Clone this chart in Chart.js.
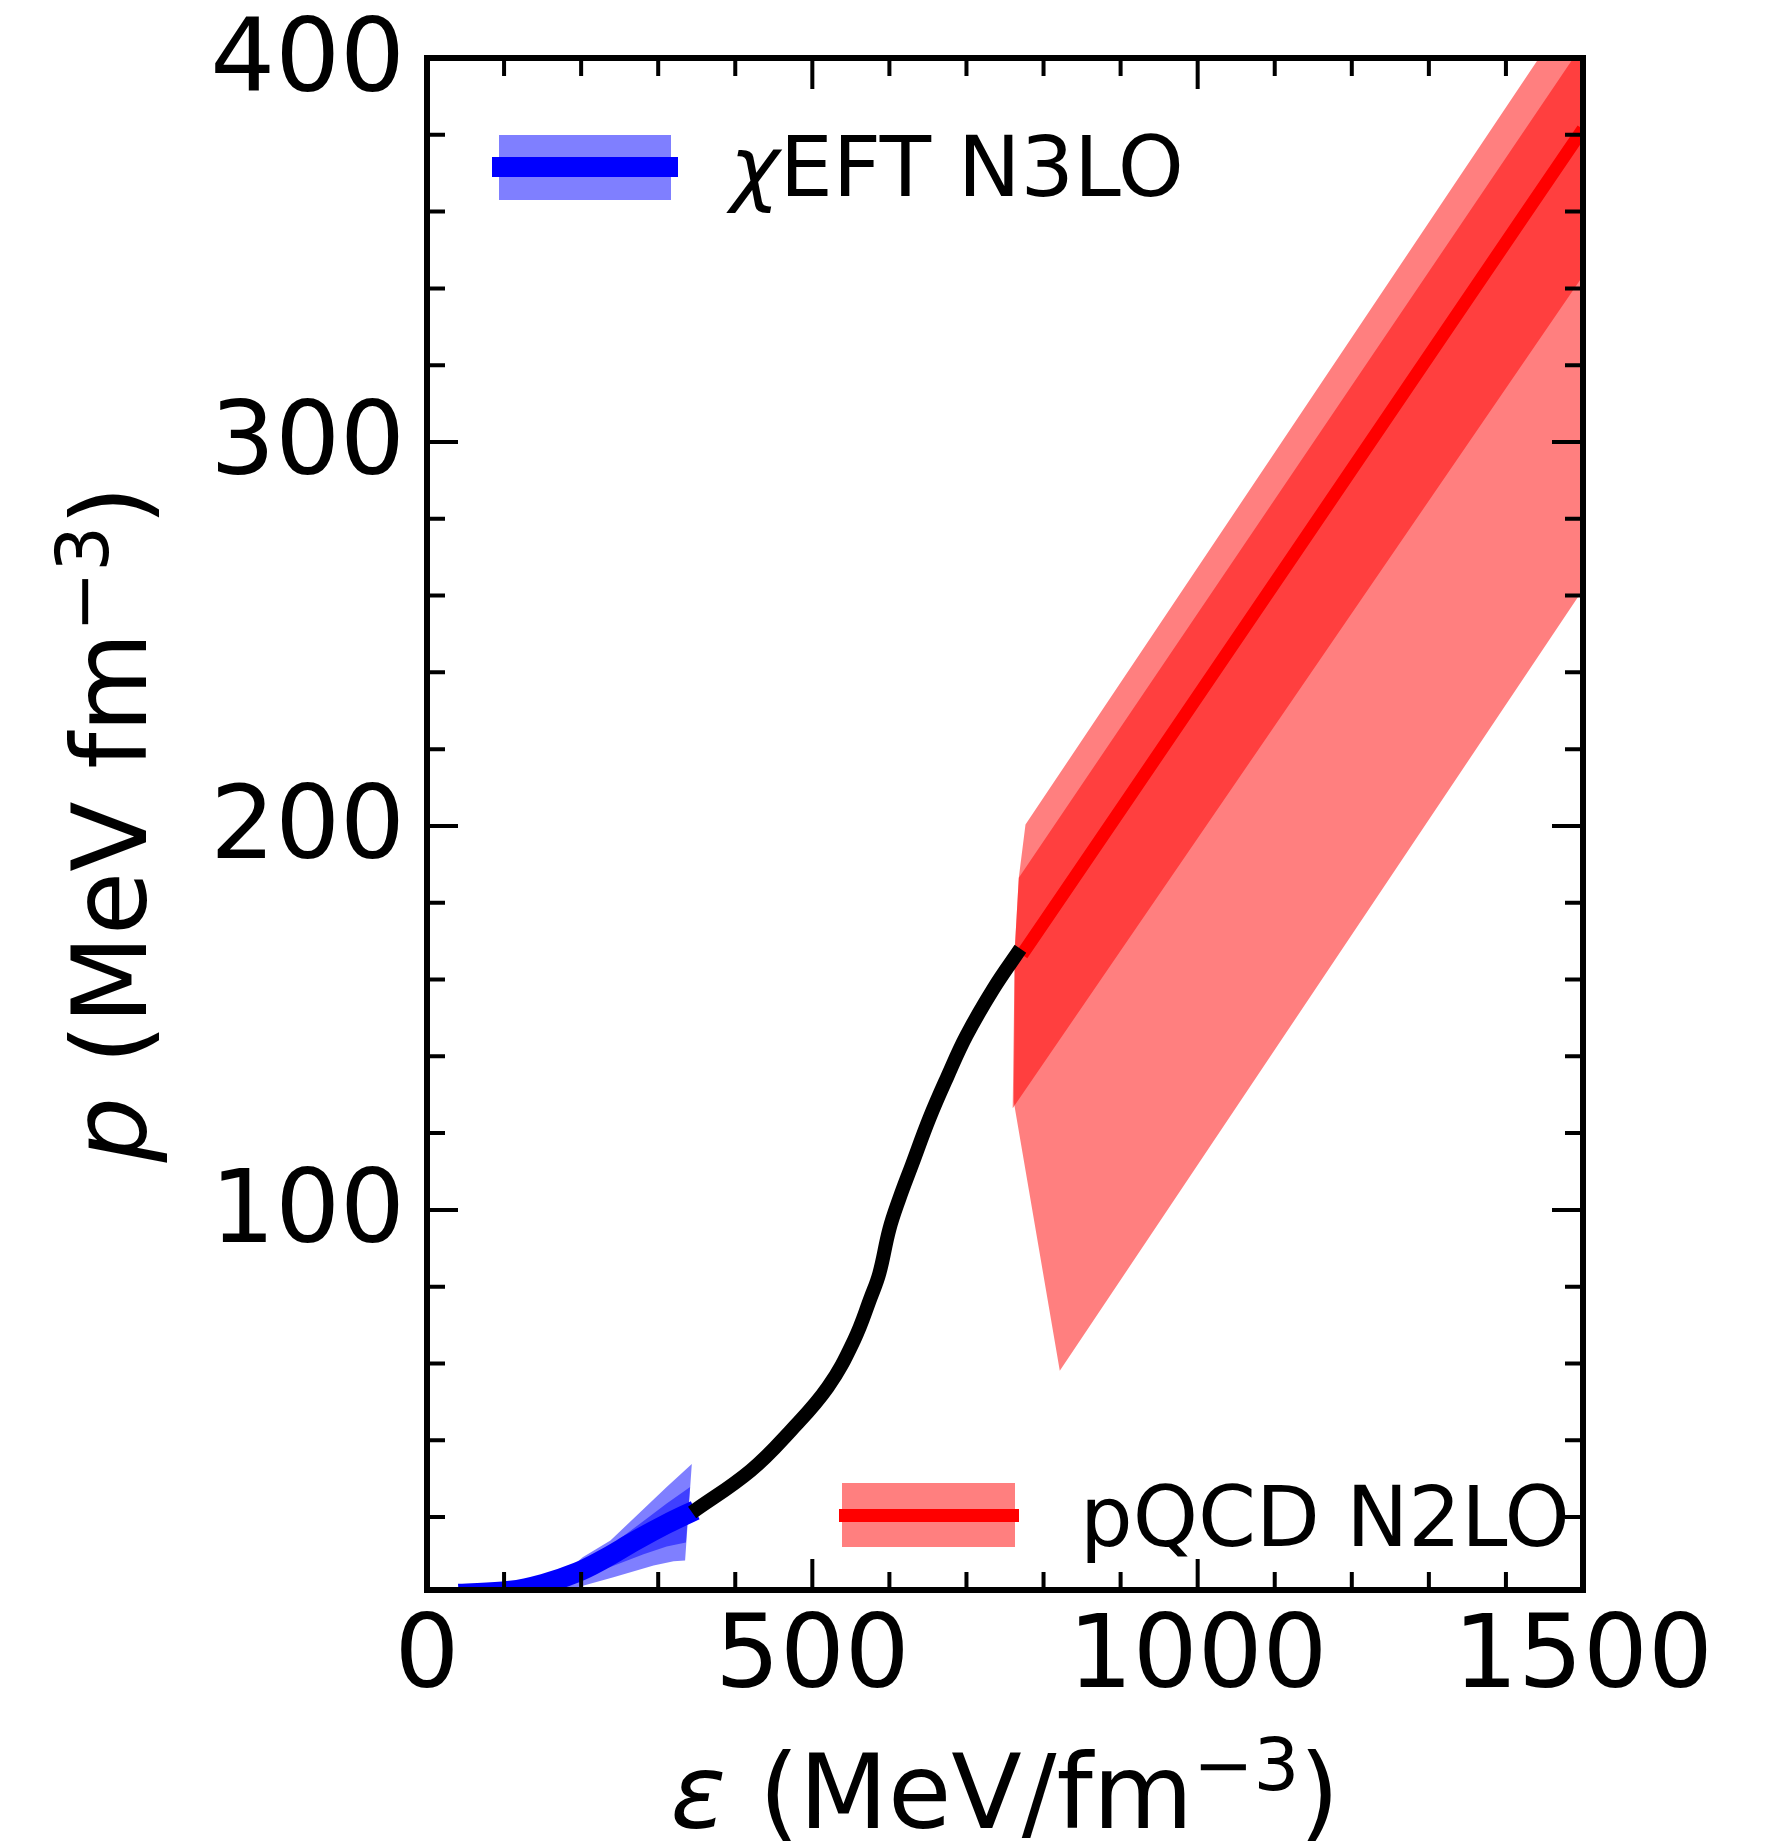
<!DOCTYPE html>
<html lang="en">
<head>
<meta charset="UTF-8">
<title>Pressure vs energy density</title>
<script src="https://cdn.jsdelivr.net/npm/chart.js"></script>
<style>
  html, body { margin: 0; padding: 0; background: #fff; }
  #wrap { width: 1773px; height: 1845px; }
</style>
</head>
<body>
<div id="wrap"><canvas id="eos" width="1773" height="1845"></canvas></div>
<script>
// energy density (MeV/fm^3), pressure (MeV fm^-3)
const chiEftCentral = [[41,0],[108,0.8],[151,2.6],[195,5.6],[229,9.0],[272,14.0],[311,18.2],[348,21.8]];
const chiEftOuter = [[150,0.5],[202,9.5],[238,13.9],[281,22.1],[311,27.8],[343.6,33.8],[334.9,8.7],[320,8.5],[294,7.4],[242,4.3],[186,1.2],[150,-1],[150,0.5]];
const chiEftInner = [[186,3.5],[202,9],[238,12.5],[281,19],[311,23.5],[341.4,27.8],[336,13.4],[311,12.3],[281,10.3],[238,7],[202,4.5],[186,3.5]];

const interpEos = [[344,21.2],[420,32.1],[472,42.5],[520,53.8],[554,66],[576,77.3],[587,83.5],[600,95],[613,103],[629,111.6],[652,123.9],[675,134.6],[700,145.4],[735,157.6],[770,168]];

const pqcdCentral = [[772,166.5],[908.5,206.7],[1349.3,337],[1500,381.5]];
const pqcdOuter = [[776.6,200.4],[1500,417.1],[1500,261.6],[821.1,58.1],[761.5,128],[762.7,168],[767.9,186.5],[776.6,200.4]];
const pqcdInner = [[767.9,186.5],[1500,403.7],[1500,343.3],[760,126.5],[762.7,168],[767.9,186.5]];

const xTicks = [0, 500, 1000, 1500];
const yTicks = [100, 200, 300, 400];

const pts = arr => arr.map(([x, y]) => ({x, y}));
const FONT = '"DejaVu Sans", sans-serif';

function line(data, color, width, order) {
  return {
    data: pts(data), showLine: true, borderColor: color, borderWidth: width,
    pointRadius: 0, fill: false, tension: 0.4,
    borderCapStyle: 'butt', clip: 0, order: order
  };
}
function band(data, color, order) {
  return {
    data: pts(data), showLine: true, borderColor: 'transparent', borderWidth: 0,
    backgroundColor: color, pointRadius: 0, fill: 'shape', tension: 0, clip: 0, order: order
  };
}

// text with italic symbol and superscript pieces
function richText(ctx, parts, size) {
  let w = 0;
  parts.forEach(p => {
    const s = p.sup ? size * 0.7 : size;
    ctx.font = (p.it ? 'italic ' : '') + s + 'px ' + FONT;
    p.w = ctx.measureText(p.t).width;
    w += p.w;
  });
  let x = -w / 2;
  parts.forEach(p => {
    const s = p.sup ? size * 0.7 : size;
    ctx.font = (p.it ? 'italic ' : '') + s + 'px ' + FONT;
    ctx.fillText(p.t, x, p.sup ? -size * 0.37 : 0);
    x += p.w;
  });
}

const decor = {
  id: 'decor',
  afterDraw(chart) {
    const ctx = chart.ctx;
    const a = chart.chartArea;
    const xs = chart.scales.x, ys = chart.scales.y;
    ctx.save();
    ctx.strokeStyle = '#000';
    ctx.fillStyle = '#000';

    // inward ticks on all four sides
    ctx.lineWidth = 4;
    ctx.beginPath();
    for (let v = 0; v <= 1500; v += 100) {
      const px = xs.getPixelForValue(v);
      const len = v % 500 === 0 ? 31 : 18;
      ctx.moveTo(px, a.bottom); ctx.lineTo(px, a.bottom - len);
      ctx.moveTo(px, a.top); ctx.lineTo(px, a.top + len);
    }
    for (let v = 20; v <= 400; v += 20) {
      const py = ys.getPixelForValue(v);
      const len = v % 100 === 0 ? 31 : 18;
      ctx.moveTo(a.left, py); ctx.lineTo(a.left + len, py);
      ctx.moveTo(a.right, py); ctx.lineTo(a.right - len, py);
    }
    ctx.stroke();

    // frame
    ctx.lineWidth = 6;
    ctx.strokeRect(a.left, a.top, a.right - a.left, a.bottom - a.top);

    // legend entries
    ctx.fillStyle = 'rgba(0,0,255,0.5)';
    ctx.fillRect(499, 135, 172, 65);
    ctx.fillStyle = '#0000ff';
    ctx.fillRect(492, 157, 186, 20);
    ctx.fillStyle = 'rgba(255,0,0,0.5)';
    ctx.fillRect(842, 1483, 173, 64);
    ctx.fillStyle = '#ff0000';
    ctx.fillRect(839, 1509, 180, 13);

    ctx.fillStyle = '#000';
    ctx.textAlign = 'left';
    ctx.textBaseline = 'alphabetic';
    ctx.font = 'italic 84px ' + FONT;
    ctx.fillText('χ', 730, 196);
    const cw = ctx.measureText('χ').width;
    ctx.font = '84px ' + FONT;
    ctx.fillText('EFT N3LO', 730 + cw, 196);
    ctx.font = '83px ' + FONT;
    ctx.fillText('pQCD N2LO', 1080, 1546);

    // axis titles
    ctx.save();
    ctx.translate((a.left + a.right) / 2, 1828);
    richText(ctx, [{t: 'ε', it: true}, {t: ' (MeV/fm'}, {t: '−3', sup: true}, {t: ')'}], 103);
    ctx.restore();

    ctx.save();
    ctx.translate(146, (a.top + a.bottom) / 2);
    ctx.rotate(-Math.PI / 2);
    richText(ctx, [{t: 'p', it: true}, {t: ' (MeV fm'}, {t: '−3', sup: true}, {t: ')'}], 103);
    ctx.restore();

    ctx.restore();
  }
};

new Chart(document.getElementById('eos'), {
  type: 'scatter',
  data: {
    datasets: [
      line(interpEos, '#000000', 14, 0),
      line(pqcdCentral, '#ff0000', 13, 1),
      line(chiEftCentral, '#0000ff', 20, 1),
      band(pqcdInner, 'rgba(255,0,0,0.5)', 2),
      band(pqcdOuter, 'rgba(255,0,0,0.5)', 3),
      band(chiEftInner, 'rgba(0,0,255,0.5)', 2),
      band(chiEftOuter, 'rgba(0,0,255,0.5)', 3)
    ]
  },
  options: {
    responsive: false,
    animation: false,
    layout: { padding: { left: 0, top: 58, right: 190, bottom: 0 } },
    plugins: { legend: { display: false }, tooltip: { enabled: false } },
    scales: {
      x: {
        type: 'linear', min: 0, max: 1500,
        afterBuildTicks: s => { s.ticks = xTicks.map(v => ({value: v})); },
        afterFit: s => { s.height = 255; s.paddingLeft = 0; s.paddingRight = 0; },
        grid: { display: false, drawTicks: false },
        border: { display: false },
        ticks: { color: '#000', font: { family: FONT, size: 102 }, padding: 9, maxRotation: 0, autoSkip: false,
                 callback: v => String(v) }
      },
      y: {
        type: 'linear', min: 1, max: 400,
        afterBuildTicks: s => { s.ticks = yTicks.map(v => ({value: v})); },
        afterFit: s => { s.width = 427; s.paddingTop = 0; s.paddingBottom = 0; },
        grid: { display: false, drawTicks: false },
        border: { display: false },
        ticks: { color: '#000', font: { family: FONT, size: 102 }, padding: 22, labelOffset: 6, autoSkip: false,
                 callback: v => String(v) }
      }
    }
  },
  plugins: [decor]
});
</script>
</body>
</html>
